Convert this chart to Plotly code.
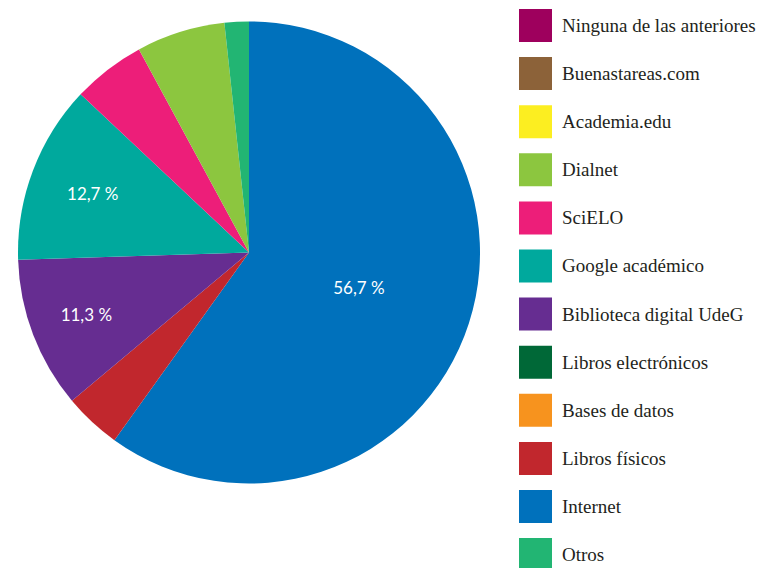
import plotly.graph_objects as go

# Data (slice order clockwise from 12 o'clock)
categories = ["Internet", "Libros físicos", "Bases de datos", "Libros electrónicos",
              "Biblioteca digital UdeG", "Google académico", "SciELO", "Dialnet",
              "Academia.edu", "Buenastareas.com", "Ninguna de las anteriores", "Otros"]
values = [59.9, 4.0, 0, 0, 10.6, 12.5, 5.1, 6.2, 0, 0, 0, 1.7]
slice_labels = ["56,7 %", "", "", "", "11,3 %", "12,7 %", "", "", "", "", "", ""]
colors = ["#0071BC", "#C1272D", "#F7931E", "#006837", "#662D91", "#00A99D",
          "#ED1E79", "#8CC63F", "#FCEE21", "#8C6239", "#9E005D", "#22B573"]

# Legend order (top to bottom)
legend_order = ["Ninguna de las anteriores", "Buenastareas.com", "Academia.edu", "Dialnet",
                "SciELO", "Google académico", "Biblioteca digital UdeG", "Libros electrónicos",
                "Bases de datos", "Libros físicos", "Internet", "Otros"]

W, H = 759, 568
cx, cy, r = 249, 252.5, 231

fig = go.Figure(go.Pie(
    labels=categories,
    values=values,
    text=slice_labels,
    textinfo="text",
    textposition="inside",
    insidetextorientation="horizontal",
    textfont=dict(family="Lato, Liberation Sans, sans-serif", size=17, color="white"),
    marker=dict(colors=colors, line=dict(width=0)),
    sort=False,
    direction="clockwise",
    rotation=0,
    showlegend=False,
    hoverinfo="label+value",
    domain=dict(x=[(cx - r) / W, (cx + r) / W], y=[1 - (cy + r) / H, 1 - (cy - r) / H]),
))

shapes = []
annotations = []
color_of = dict(zip(categories, colors))
row_top0, row_step, sw = 9, 48.1, 33
for i, name in enumerate(legend_order):
    top = row_top0 + i * row_step
    shapes.append(dict(type="rect", xref="paper", yref="paper",
                       x0=519 / W, x1=(519 + sw) / W,
                       y0=1 - (top + sw) / H, y1=1 - top / H,
                       fillcolor=color_of[name], line=dict(width=0)))
    annotations.append(dict(text=name, xref="paper", yref="paper",
                            x=560 / W, y=1 - (top + sw / 2) / H,
                            xanchor="left", yanchor="middle", showarrow=False,
                            font=dict(family="Liberation Serif, serif", size=19, color="#231F20")))

fig.update_layout(
    width=W, height=H,
    margin=dict(l=0, r=0, t=0, b=0),
    paper_bgcolor="white", plot_bgcolor="white",
    shapes=shapes, annotations=annotations,
)

fig.write_html("out.html", config={"displayModeBar": False},
               post_script="document.body.style.margin='0';document.body.style.overflow='hidden';")
